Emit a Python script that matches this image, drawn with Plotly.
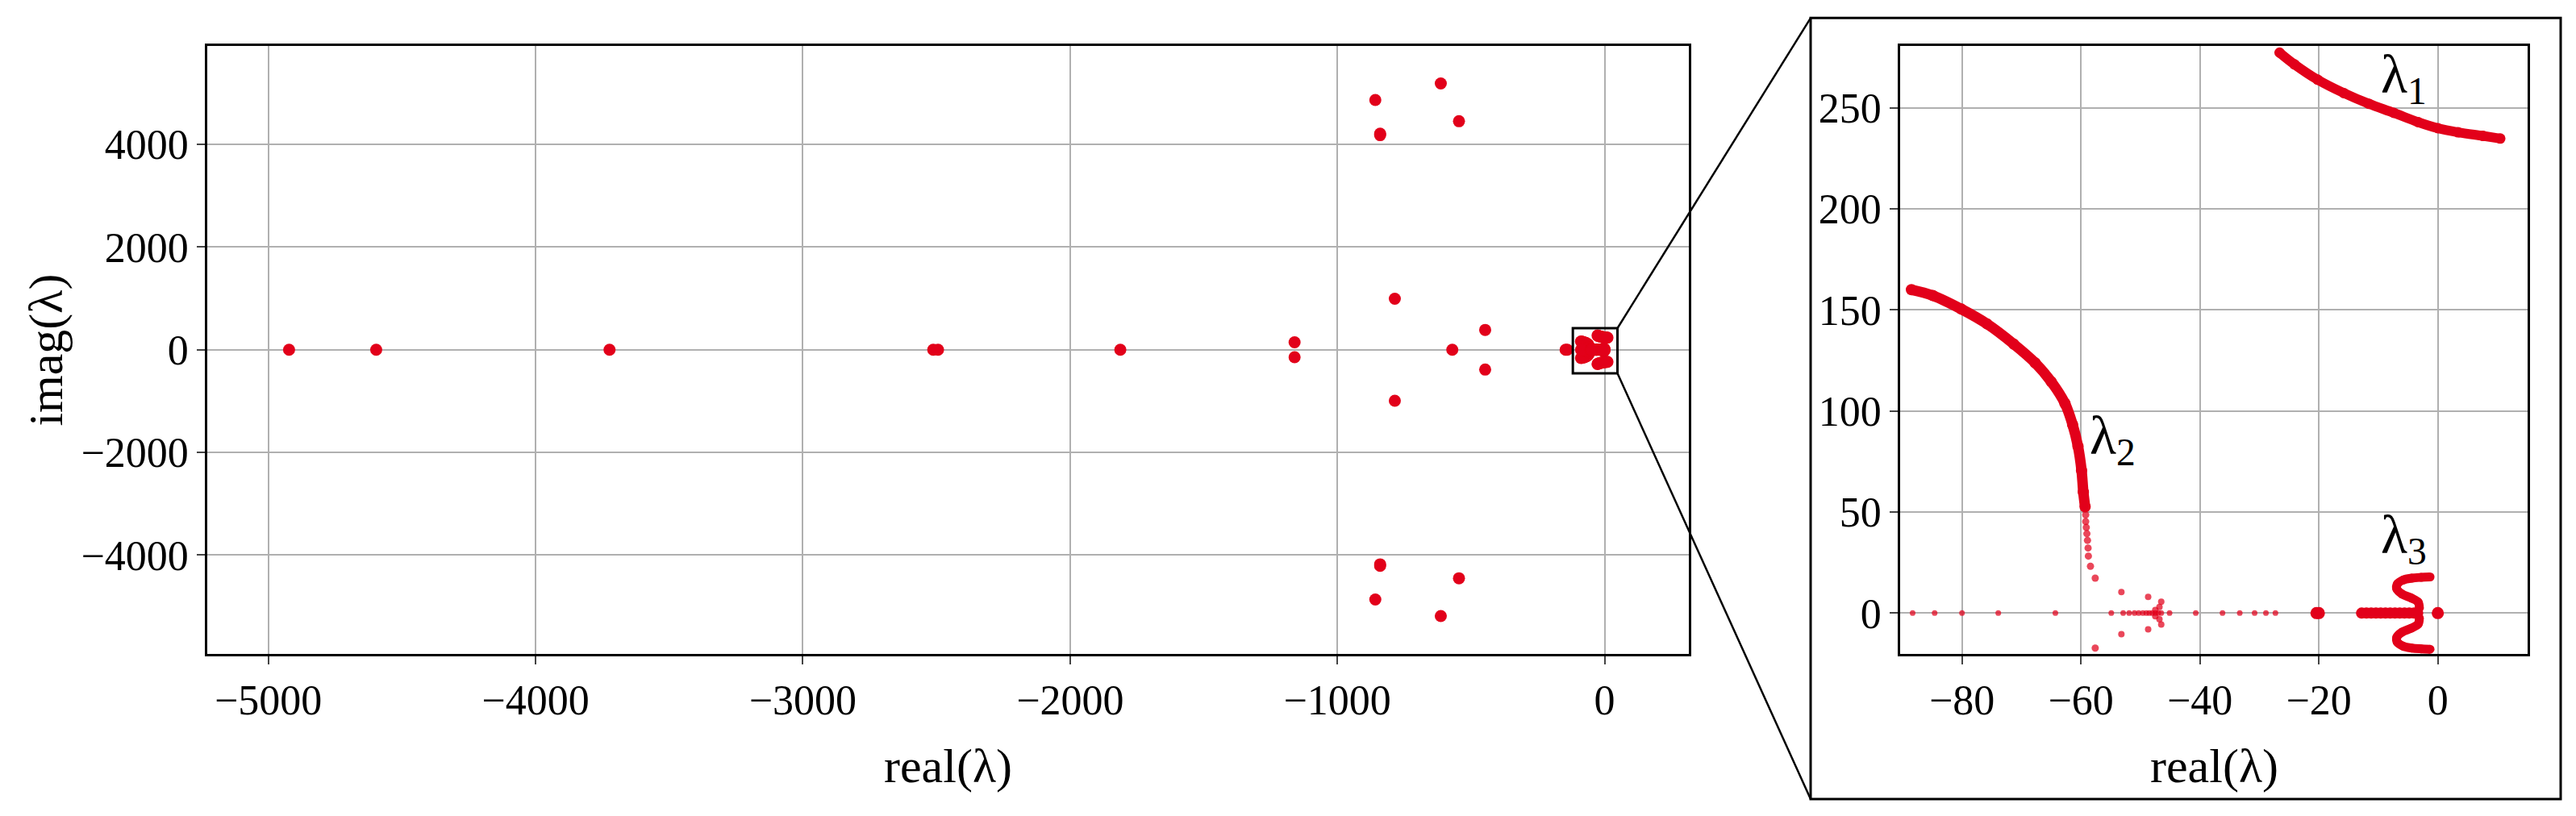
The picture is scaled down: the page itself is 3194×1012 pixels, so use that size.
import plotly.graph_objects as go

RED = "#e2001a"
RED_A = "rgba(226,0,26,0.72)"
FONT = "Liberation Serif"

# eigenvalues far from the origin (only seen in the main panel)
far_re = [-4922, -4596, -3723, -2512, -2494, -1812, -1160, -1160, -858, -858,
          -840, -840, -840, -840, -613, -613, -545, -545, -785, -785,
          -447, -447, -570, -146, -140]
far_im = [0, 0, 0, 0, 0, 0, 145, -145, 4866, -4866,
          4210, 4180, -4210, -4180, 5186, -5186, 4451, -4451, 994, -994,
          386, -386, 0, 0, 0]

# branch lambda_1 (upper half)
lam1_re = [-26.6, -24.1, -20.2, -15.8, -11.6, -7.4, -3.3, 0.0, 3.4, 7.6, 10.5]
lam1_im = [277.3, 271.5, 263.9, 257.3, 252.0, 247.5, 242.9, 239.9, 237.9, 236.1, 234.8]

# branch lambda_2 (upper half), dense part and sparse tail
lam2_re = [-88.5, -84.9, -80.1, -75.8, -71.3, -67.7, -65.0, -62.7, -61.4, -60.5, -59.9, -59.6, -59.3]
lam2_im = [160.0, 157.1, 150.4, 143.1, 133.1, 123.8, 114.5, 103.8, 93.2, 82.5, 70.6, 59.9, 52.6]
tail_re = [-59.2, -59.2, -59.1, -59.0, -58.9, -58.8, -58.75, -58.4, -57.6]
tail_im = [48.6, 45.3, 42.4, 39.3, 36.0, 32.2, 28.2, 23.2, 17.3]

# small complex pairs near -50 (upper half)
near_re = [-53.2, -48.7, -46.5, -46.8, -47.5]
near_im = [10.4, 8.0, 5.6, 3.0, 1.5]

# real eigenvalues (small dots)
real_re = [-88.3, -84.6, -80.0, -73.9, -64.3, -54.9, -52.9, -51.9, -51.0, -50.3,
           -49.6, -49.0, -48.5, -48.0, -47.5, -47.0, -46.5, -45.1, -40.7, -36.2,
           -33.3, -30.8, -28.9, -27.3]

# large real eigenvalues
big_re = [-20.4, -20.0, 0.0]

# branch lambda_3: real band and the upper curl
lam3_band_re = [-12.8, -12.0, -11.2, -10.4, -9.6, -8.8, -8.0, -7.2, -6.4, -5.6, -4.8, -4.0, -3.4]
lam3_re = [-3.1, -3.3, -4.4, -6.0, -6.9, -6.8, -5.8, -4.4, -2.8, -1.3]
lam3_im = [2.4, 5.4, 7.4, 9.4, 12.0, 14.4, 16.4, 17.3, 17.7, 17.9]


def mirror(re, im):
    return list(re) + list(re), list(im) + [-v for v in im]


# the page puts the figure 8px in from the top-left corner
DX = 8 / 3194
DY = 8 / 1012

X1_RANGE = [-5228, 315]
Y1_RANGE = [-5925, 5925]
X2_RANGE = [-90.4, 15.1]
Y2_RANGE = [-20.2, 280.8]
X1_DOM = [257 / 3194 - DX, 2094 / 3194 - DX]
X2_DOM = [2356 / 3194 - DX, 3134 / 3194 - DX]
Y_DOM = [(1012 - 811) / 1012 + DY, (1012 - 56.5) / 1012 + DY]
ZOOM_BOX = dict(x0=-119, x1=48, y0=-460, y1=420)
FRAME = dict(x0=2245 / 3194 - DX, x1=3175 / 3194 - DX,
             y0=(1012 - 991) / 1012 + DY, y1=(1012 - 22.3) / 1012 + DY)

fig = go.Figure()

# main panel: every eigenvalue
all_re, all_im = [], []
for re, im in [(lam1_re, lam1_im), (lam2_re, lam2_im), (tail_re, tail_im),
               (near_re, near_im), (lam3_re, lam3_im)]:
    r, i = mirror(re, im)
    all_re += r
    all_im += i
for re in [real_re, big_re, lam3_band_re]:
    all_re += list(re)
    all_im += [0] * len(re)
all_re += far_re
all_im += far_im

fig.add_trace(go.Scatter(x=all_re, y=all_im, mode="markers", xaxis="x", yaxis="y",
                         marker=dict(color=RED, size=15, line=dict(width=0)), showlegend=False))

# inset panel
fig.add_trace(go.Scatter(x=real_re, y=[0] * len(real_re), mode="markers", xaxis="x2", yaxis="y2",
                         marker=dict(color=RED_A, size=7, line=dict(width=0)), showlegend=False))
r, i = mirror(near_re, near_im)
fig.add_trace(go.Scatter(x=r, y=i, mode="markers", xaxis="x2", yaxis="y2",
                         marker=dict(color=RED_A, size=8, line=dict(width=0)), showlegend=False))
r, i = mirror(tail_re, tail_im)
fig.add_trace(go.Scatter(x=r, y=i, mode="markers", xaxis="x2", yaxis="y2",
                         marker=dict(color=RED_A, size=9, line=dict(width=0)), showlegend=False))
fig.add_trace(go.Scatter(x=lam2_re, y=lam2_im, mode="lines+markers", xaxis="x2", yaxis="y2",
                         line=dict(color=RED, width=13, shape="spline"),
                         marker=dict(color=RED, size=14, line=dict(width=0)), showlegend=False))
fig.add_trace(go.Scatter(x=lam1_re, y=lam1_im, mode="lines+markers", xaxis="x2", yaxis="y2",
                         line=dict(color=RED, width=12, shape="spline"),
                         marker=dict(color=RED, size=13, line=dict(width=0)), showlegend=False))
for sign in (1, -1):
    fig.add_trace(go.Scatter(x=lam3_re, y=[sign * v for v in lam3_im], mode="lines+markers",
                             xaxis="x2", yaxis="y2",
                             line=dict(color=RED, width=11, shape="spline"),
                             marker=dict(color=RED, size=11, line=dict(width=0)), showlegend=False))
fig.add_trace(go.Scatter(x=lam3_band_re, y=[0] * len(lam3_band_re), mode="markers", xaxis="x2", yaxis="y2",
                         marker=dict(color=RED, size=14, line=dict(width=0)), showlegend=False))
fig.add_trace(go.Scatter(x=big_re, y=[0] * len(big_re), mode="markers", xaxis="x2", yaxis="y2",
                         marker=dict(color=RED, size=15, line=dict(width=0)), showlegend=False))

axis_style = dict(showgrid=True, gridcolor="#b0b0b0", gridwidth=2, zeroline=False,
                  showline=True, linecolor="black", linewidth=2.5, mirror=True,
                  ticks="outside", ticklen=10, tickwidth=2, tickcolor="#444",
                  tickfont=dict(family=FONT, size=52, color="black"))


def to_paper(v, rng, dom):
    return dom[0] + (v - rng[0]) / (rng[1] - rng[0]) * (dom[1] - dom[0])


box_right = to_paper(ZOOM_BOX["x1"], X1_RANGE, X1_DOM)
box_top = to_paper(ZOOM_BOX["y1"], Y1_RANGE, Y_DOM)
box_bottom = to_paper(ZOOM_BOX["y0"], Y1_RANGE, Y_DOM)

shapes = [
    dict(type="rect", xref="x", yref="y", layer="above", line=dict(color="black", width=3), **ZOOM_BOX),
    dict(type="rect", xref="paper", yref="paper", layer="above", line=dict(color="black", width=3), **FRAME),
    dict(type="line", xref="paper", yref="paper", x0=box_right, y0=box_top, x1=FRAME["x0"], y1=FRAME["y1"],
         line=dict(color="black", width=2.5)),
    dict(type="line", xref="paper", yref="paper", x0=box_right, y0=box_bottom, x1=FRAME["x0"], y1=FRAME["y0"],
         line=dict(color="black", width=2.5)),
]

title_font = dict(family=FONT, size=60, color="black")
lam_font = dict(family=FONT, size=68, color="black")
annotations = [
    dict(text="real(λ)", x=(X1_DOM[0] + X1_DOM[1]) / 2, y=0.0613 + DY, xref="paper", yref="paper",
         showarrow=False, font=title_font, xanchor="center", yanchor="middle"),
    dict(text="real(λ)", x=(X2_DOM[0] + X2_DOM[1]) / 2, y=0.0613 + DY, xref="paper", yref="paper",
         showarrow=False, font=title_font, xanchor="center", yanchor="middle"),
    dict(text="imag(λ)", x=0.0178 - DX, y=(Y_DOM[0] + Y_DOM[1]) / 2, xref="paper", yref="paper",
         showarrow=False, font=title_font, textangle=-90, xanchor="center", yanchor="middle"),
    dict(text="λ<sub>1</sub>", x=-9.8, y=265, xref="x2", yref="y2", showarrow=False,
         font=lam_font, xanchor="left", yanchor="middle"),
    dict(text="λ<sub>2</sub>", x=-58.8, y=86, xref="x2", yref="y2", showarrow=False,
         font=lam_font, xanchor="left", yanchor="middle"),
    dict(text="λ<sub>3</sub>", x=-9.8, y=37, xref="x2", yref="y2", showarrow=False,
         font=lam_font, xanchor="left", yanchor="middle"),
]

fig.update_layout(
    width=3194, height=1012,
    margin=dict(l=0, r=0, t=0, b=0),
    paper_bgcolor="white", plot_bgcolor="white",
    font=dict(family=FONT, color="black"),
    xaxis=dict(domain=X1_DOM, range=X1_RANGE, tick0=0, dtick=1000, anchor="y", **axis_style),
    yaxis=dict(domain=Y_DOM, range=Y1_RANGE, tick0=0, dtick=2000, anchor="x", **axis_style),
    xaxis2=dict(domain=X2_DOM, range=X2_RANGE, tick0=0, dtick=20, anchor="y2", **axis_style),
    yaxis2=dict(domain=Y_DOM, range=Y2_RANGE, tick0=0, dtick=50, anchor="x2", **axis_style),
    shapes=shapes,
    annotations=annotations,
    showlegend=False,
)

fig.write_html("out.html")
